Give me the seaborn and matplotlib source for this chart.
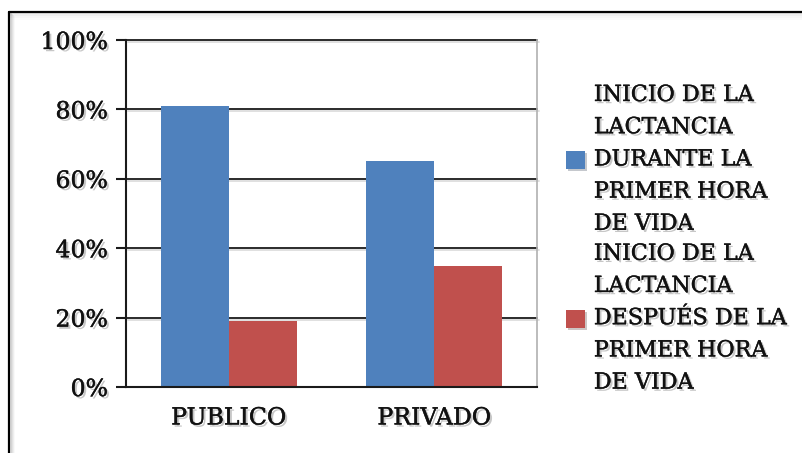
import matplotlib
matplotlib.use("Agg")
import matplotlib.pyplot as plt
import matplotlib.patheffects as pe
from matplotlib.patches import Rectangle
import seaborn as sns
import pandas as pd

# Datos
sectores = ["PUBLICO", "PRIVADO"]
series = [
    "INICIO DE LA\nLACTANCIA\nDURANTE LA\nPRIMER HORA\nDE VIDA",
    "INICIO DE LA\nLACTANCIA\nDESPUÉS DE LA\nPRIMER HORA\nDE VIDA",
]
durante_primera_hora = [0.81, 0.65]
despues_primera_hora = [0.19, 0.35]
ticks_y = [0.0, 0.2, 0.4, 0.6, 0.8, 1.0]
etiquetas_y = ["0%", "20%", "40%", "60%", "80%", "100%"]
colores = ["#4F81BD", "#C0504D"]

df = pd.DataFrame({
    "sector": sectores * 2,
    "serie": [series[0]] * 2 + [series[1]] * 2,
    "valor": durante_primera_hora + despues_primera_hora,
})

sns.set_theme(style="white")
plt.rcParams["font.family"] = ["DejaVu Serif"]

FS = 17
FS_LEG = 16
efecto_texto = [
    pe.SimplePatchShadow(offset=(1.6, -1.6), shadow_rgbFace="#000000", alpha=0.22),
    pe.Stroke(linewidth=0.3, foreground="#111111"),
    pe.Normal(),
]

fig = plt.figure(figsize=(8.03, 4.53), dpi=100)
fig.patch.set_facecolor("white")

# marco exterior con sombra interior suave
W, H = 803, 453
for i, a in enumerate([0.10, 0.07, 0.045, 0.025]):
    fig.add_artist(Rectangle(((10 + i) / W, 0), 2 / W, (H - 13 - i) / H,
                             transform=fig.transFigure, color="black", alpha=a, lw=0))
    fig.add_artist(Rectangle((10 / W, (H - 14 - 2 * i) / H), (W - 10) / W, 2 / H,
                             transform=fig.transFigure, color="black", alpha=a, lw=0))
fig.add_artist(plt.Line2D([9 / W, 9 / W], [0, (H - 12) / H], transform=fig.transFigure,
                          color="black", lw=1.6))
fig.add_artist(plt.Line2D([9 / W, 1.0], [(H - 12) / H, (H - 12) / H], transform=fig.transFigure,
                          color="black", lw=1.6))

ax = fig.add_axes([126 / W, (H - 387) / H, (537 - 126) / W, (387 - 40) / H])

sns.barplot(data=df, x="sector", y="valor", hue="serie", hue_order=series,
            order=sectores, palette=colores, width=0.662, gap=0, ax=ax,
            saturation=1, edgecolor="none", linewidth=0, zorder=3)

ax.set_xlim(-0.5, 1.5)
ax.set_ylim(0, 1.0)
ax.set_yticks(ticks_y)
ax.set_yticklabels(etiquetas_y)
ax.set_xlabel("")
ax.set_ylabel("")

# líneas de cuadrícula horizontales
for t in ticks_y[1:]:
    ax.axhline(t, color="#1a1a1a", lw=1.3, zorder=1, clip_on=False,
               path_effects=[pe.SimpleLineShadow(offset=(1.5, -1.5), alpha=0.15), pe.Normal()])

ax.spines["top"].set_visible(False)
ax.spines["right"].set_color("#b0b0b0")
ax.spines["right"].set_linewidth(1.2)
for s in ["left", "bottom"]:
    ax.spines[s].set_color("#1a1a1a")
    ax.spines[s].set_linewidth(1.5)
    ax.spines[s].set_zorder(4)

ax.set_xticks([-0.5, 0.5, 1.5], minor=True)
ax.tick_params(axis="x", which="minor", direction="out", length=7, width=1.5, color="#1a1a1a")
ax.tick_params(axis="x", which="major", length=0, pad=14, labelsize=FS, labelcolor="#111111")
ax.tick_params(axis="y", direction="out", length=7, width=1.5, color="#1a1a1a",
               pad=6, labelsize=FS, labelcolor="#111111", left=True)

for lbl in ax.get_xticklabels() + ax.get_yticklabels():
    lbl.set_path_effects(efecto_texto)

# leyenda
handles, labels = ax.get_legend_handles_labels()
if ax.legend_:
    ax.legend_.remove()
leg = fig.legend(handles, labels, loc="upper left",
                 bbox_to_anchor=(566 / W, 1 - 84 / H), frameon=False,
                 fontsize=FS_LEG, handlelength=0.85, handleheight=0.85,
                 handletextpad=0.4, borderpad=0, borderaxespad=0,
                 labelspacing=0.36)
for txt in leg.get_texts():
    txt.set_linespacing(1.6)
    txt.set_color("#111111")
    txt.set_path_effects(efecto_texto)
for p in leg.get_patches():
    p.set_path_effects([pe.SimplePatchShadow(offset=(1.5, -1.5), alpha=0.25), pe.Normal()])

fig.savefig("out.png", dpi=100, facecolor="white")
